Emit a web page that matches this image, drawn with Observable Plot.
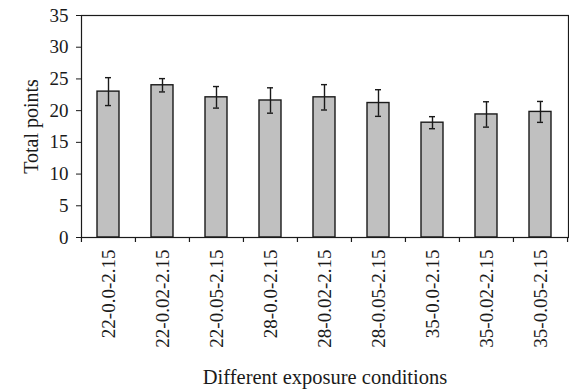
<!DOCTYPE html>
<html>
<head>
<meta charset="utf-8">
<script src="https://cdn.jsdelivr.net/npm/d3@7"></script>
<script src="https://cdn.jsdelivr.net/npm/@observablehq/plot@0.6"></script>
<style>
  html, body { margin: 0; padding: 0; background: #fff; }
  #chart svg { display: block; }
</style>
</head>
<body>
<div id="chart"></div>
<script>
const categories = ["22-0.0-2.15","22-0.02-2.15","22-0.05-2.15","28-0.0-2.15","28-0.02-2.15","28-0.05-2.15","35-0.0-2.15","35-0.02-2.15","35-0.05-2.15"];
const values = [23.0, 24.0, 22.1, 21.6, 22.1, 21.2, 18.1, 19.4, 19.8];
const errors = [2.2, 1.05, 1.7, 2.0, 2.0, 2.1, 0.95, 2.0, 1.65];
const yTicks = [0, 5, 10, 15, 20, 25, 30, 35];

const data = categories.map((c, i) => ({cat: c, v: values[i], lo: values[i] - errors[i], hi: values[i] + errors[i]}));

const W = 569, H = 392, ML = 81, MR = 1, MT = 15, MB = 155;
const step = (W - ML - MR) / categories.length;
const font = "'Liberation Serif', 'Times New Roman', serif";
const ink = "#1a1a1a";

const chart = Plot.plot({
  width: W, height: H,
  marginLeft: ML, marginRight: MR, marginTop: MT, marginBottom: MB,
  style: {fontFamily: font, fontSize: "19px", color: ink, background: "#fff"},
  x: {domain: categories, paddingInner: 0.59, paddingOuter: 0.295},
  y: {domain: [0, 35]},
  marks: [
    Plot.barY(data, {x: "cat", y: "v", fill: "#c0c0c0", stroke: ink, strokeWidth: 1.4}),
    Plot.ruleX(data, {x: "cat", y1: "lo", y2: "hi", stroke: ink, strokeWidth: 1.4}),
    Plot.tickY(data, {x: "cat", y: "hi", stroke: ink, strokeWidth: 1.4, insetLeft: 8, insetRight: 8}),
    Plot.tickY(data, {x: "cat", y: "lo", stroke: ink, strokeWidth: 1.4, insetLeft: 8, insetRight: 8}),
    Plot.frame({stroke: ink, strokeWidth: 1.2}),
    Plot.ruleX(categories, {x: d => d, dx: -step / 2, y1: 0, y2: 0, insetBottom: -5, stroke: ink, strokeWidth: 1.2}),
    Plot.ruleX([categories[categories.length - 1]], {x: d => d, dx: step / 2, y1: 0, y2: 0, insetBottom: -5, stroke: ink, strokeWidth: 1.2}),
    Plot.axisY({ticks: yTicks, tickSize: 5, tickPadding: 8, fontSize: 19, stroke: ink, label: null}),
    Plot.axisY({ticks: [], tickSize: 0, label: "Total points", labelAnchor: "center", labelArrow: "none", labelOffset: 58, fontSize: 20}),
    Plot.axisX({tickSize: 0, tickRotate: -90, tickPadding: 12, fontSize: 19, label: null}),
    Plot.axisX({ticks: [], tickSize: 0, label: "Different exposure conditions", labelAnchor: "center", labelArrow: "none", labelOffset: 146, fontSize: 20.5})
  ]
});
document.getElementById("chart").appendChild(chart);
</script>
</body>
</html>
